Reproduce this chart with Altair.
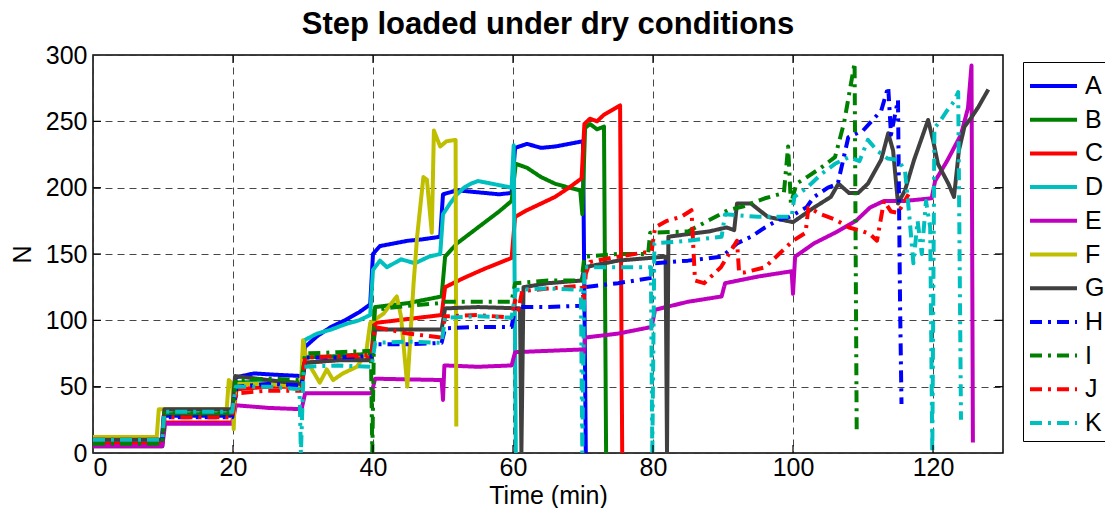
import altair as alt
import pandas as pd

series = ["A", "B", "C", "D", "E", "F", "G", "H", "I", "J", "K"]
colors = ["#0000FF", "#008000", "#FF0000", "#00BFBF", "#BF00BF", "#BFBF00",
          "#404040", "#0000FF", "#008000", "#FF0000", "#00BFBF"]
dashes = [[1, 0]] * 7 + [[12, 6, 3, 6]] * 4

x_ticks = [0, 20, 40, 60, 80, 100, 120]
y_ticks = [0, 50, 100, 150, 200, 250, 300]

A_t = [0, 9.8, 10.1, 19.9, 20.4, 23, 26, 29.8, 30.3, 32, 34, 36, 38, 39.6, 40.0, 41, 43, 45, 47, 49.6,
       50.0, 52, 54, 56, 58, 59.8, 60.3, 62, 64, 66, 68, 70.0, 70.4]
A_n = [8, 8, 28, 28, 57, 60, 59, 58, 80, 88, 95, 100, 106, 112, 150, 156, 158, 160, 161, 163,
       195, 198, 197, 196, 195, 196, 230, 233, 230, 231, 233, 235, 0]

B_t = [0, 9.9, 10.2, 19.9, 20.4, 25, 29.8, 30.3, 35, 39.8, 40.3, 45, 49.8, 50.3, 52, 55, 58, 59.8,
       60.4, 62, 64, 66, 68, 69.6, 69.9, 70.3, 71, 72, 73.0, 73.3]
B_n = [5, 5, 30, 30, 53, 54, 53, 72, 73, 75, 110, 113, 118, 148, 158, 170, 182, 190,
       218, 215, 208, 203, 200, 198, 180, 245, 248, 244, 246, 0]

C_t = [0, 9.9, 10.2, 19.9, 20.5, 25, 29.8, 30.3, 35, 39.8, 40.3, 45, 49.8, 50.3, 53, 56, 59.8,
       60.3, 62, 64, 66, 68, 69.8, 70.2, 71, 72, 73, 74, 75.3, 75.6]
C_n = [7, 7, 23, 23, 48, 50, 50, 68, 70, 72, 98, 101, 104, 125, 132, 139, 147,
       178, 183, 188, 193, 200, 207, 248, 252, 250, 255, 258, 262, 0]

D_t = [0, 9.9, 10.2, 19.9, 20.4, 25, 29.8, 30.2, 32, 34, 36, 38, 39.6, 40.0, 41, 42, 44, 46, 48, 49.6,
       50.0, 51, 52, 53, 54, 55, 57, 59.8, 60.1, 60.4]
D_n = [10, 10, 32, 32, 52, 53, 52, 85, 90, 93, 97, 100, 104, 138, 145, 140, 146, 143, 148, 150,
       180, 188, 195, 200, 203, 205, 203, 200, 232, 0]

E_t = [0, 9.9, 10.3, 19.9, 20.4, 25, 29.8, 30.3, 39.8, 40.3, 49.8, 50.0, 50.2, 55, 59.8, 60.3, 65,
       69.8, 70.0, 70.3, 75, 79.8, 80.3, 85, 89.8, 90.3, 95, 99.8, 100.0, 100.3, 103, 106, 109, 111,
       113, 116, 119.8, 120.3, 122, 124, 125.0, 125.5, 125.7]
E_n = [5, 5, 22, 22, 36, 34, 33, 45, 45, 56, 55, 40, 66, 65, 66, 76, 77,
       78, 70, 87, 90, 95, 108, 114, 118, 128, 133, 137, 120, 148, 158, 166, 175, 185,
       190, 190, 192, 205, 220, 240, 260, 292, 8]

F_t = [0, 9.1, 9.4, 19.1, 19.4, 19.9, 20.1, 20.3, 25, 29.7, 30.0, 30.5, 32.4, 33.4, 34.3, 35.7, 37.7,
       39.0, 39.6, 41.5, 42.5, 43.4, 44.0, 44.9, 45.8, 46.3, 47.2, 47.7, 48.4, 48.7, 49.6, 50.5, 51.8, 51.9]
F_n = [12, 12, 33, 33, 55, 52, 18, 52, 52, 50, 85, 70, 53, 63, 55, 60, 65,
       75, 98, 105, 112, 118, 103, 50, 128, 163, 208, 206, 166, 243, 231, 235, 236, 20]

G_t = [0, 9.9, 10.2, 19.9, 20.3, 25, 29.8, 30.3, 35, 39.8, 40.3, 45, 49.8, 50.3, 55, 61.0, 61.2, 61.5,
       65, 69.8, 70.2, 75, 81.8, 82.0, 82.2, 85, 88, 90.5, 91.6, 92, 94, 96.4, 100, 103, 105.4, 106.5,
       108, 109.3, 110.7, 112.6, 113.6, 114.3, 115, 116, 117.3, 119.3, 120, 120.7, 122.2, 123, 123.7,
       124.5, 125.5, 126.5, 127.9]
G_n = [10, 10, 33, 33, 58, 55, 52, 68, 70, 70, 93, 93, 93, 109, 110, 109, 0, 125,
       128, 130, 140, 145, 148, 0, 163, 165, 167, 170, 168, 188, 188, 178, 174, 185, 193, 203,
       196, 196, 203, 221, 241, 228, 188, 198, 221, 251, 236, 218, 203, 193, 228,
       246, 253, 261, 274]

H_t = [0, 9.9, 10.2, 19.9, 20.5, 25, 29.8, 30.3, 35, 39.8, 40.3, 45, 49.8, 50.3, 55, 59.8, 60.3, 65,
       69.8, 70.2, 75, 79.8, 80.3, 85, 89.8, 90.3, 92, 94, 96, 98, 99.5, 101.9, 103, 105, 106.4, 107.9,
       110, 112.6, 113.6, 114.0, 115.0, 115.3, 115.5]
H_n = [8, 8, 27, 27, 50, 52, 51, 72, 72, 73, 82, 82, 83, 94, 95, 95, 110, 110,
       111, 125, 128, 132, 143, 145, 148, 150, 158, 163, 170, 176, 178, 185, 193, 200, 203, 238,
       243, 258, 276, 240, 266, 110, 37]

I_t = [0, 9.9, 10.2, 19.9, 20.4, 25, 29.8, 30.3, 35, 39.7, 39.9, 40.2, 45, 49.8, 50.3, 55, 59.8, 60.3,
       65, 69.8, 70.2, 75, 79.3, 79.6, 85, 90.7, 93, 96, 98.7, 99.3, 99.7, 100.5, 102, 104, 106, 107.3,
       108.8, 109.1]
I_n = [7, 7, 30, 30, 55, 56, 55, 75, 76, 77, 0, 108, 111, 113, 114, 114, 114, 128,
       130, 130, 148, 150, 150, 166, 167, 183, 186, 192, 196, 231, 188, 203, 208, 215, 223, 249,
       294, 17]

J_t = [0, 9.9, 10.2, 19.9, 20.5, 25, 29.8, 30.3, 35, 39.8, 40.3, 45, 49.8, 50.3, 55, 59.8, 60.3, 60.8,
       61.3, 65, 69.8, 70.1, 70.4, 71, 75, 79.8, 80.3, 82, 84, 85.5, 86, 87.3, 89.7, 92, 92.3, 93, 96,
       98, 100, 101.8, 102.2, 104, 106, 108, 110, 111, 112, 113, 114, 115, 116.5]
J_n = [10, 10, 27, 27, 45, 47, 47, 72, 73, 74, 95, 90, 87, 103, 104, 102, 115, 108,
       122, 124, 126, 115, 135, 144, 148, 152, 170, 175, 178, 183, 130, 128, 140, 160, 136, 136, 140,
       150, 160, 166, 185, 180, 176, 170, 167, 165, 160, 190, 182, 181, 195]

K_t = [0, 9.9, 10.2, 19.9, 20.4, 25, 29.5, 29.7, 30.1, 35, 39.8, 40.3, 45, 49.8, 50.3, 55, 59.8, 60.4,
       65, 69.7, 69.9, 70.2, 75, 79.7, 79.9, 80.2, 85, 89.8, 90.3, 95, 99.8, 100.2, 102, 104, 106, 108,
       109.5, 110.7, 112, 113.5, 115, 116, 116.6, 117.2, 117.8, 118.4, 119.0, 119.6, 119.9, 120.2, 121,
       122, 123, 123.6, 124.0]
K_n = [10, 10, 31, 31, 50, 50, 48, 0, 65, 66, 65, 83, 84, 83, 102, 103, 102, 123,
       124, 123, 0, 140, 140, 140, 0, 158, 160, 163, 180, 178, 178, 193, 200, 210, 218, 223,
       220, 236, 228, 222, 221, 213, 180, 143, 175, 150, 190, 170, 0, 245, 250,
       258, 265, 272, 25]

data = {"A": (A_t, A_n), "B": (B_t, B_n), "C": (C_t, C_n), "D": (D_t, D_n),
        "E": (E_t, E_n), "F": (F_t, F_n), "G": (G_t, G_n), "H": (H_t, H_n),
        "I": (I_t, I_n), "J": (J_t, J_n), "K": (K_t, K_n)}

rows = []
for s in series:
    ts, ns = data[s]
    for i, (t, n) in enumerate(zip(ts, ns)):
        rows.append({"series": s, "t": t, "n": n, "i": i})
df = pd.DataFrame(rows)

FONT = "Liberation Sans"
TICK = 8  # inward tick length in px (styling)

legend = alt.Legend(
    title=None, orient="none", legendX=930, legendY=7,
    symbolType="M-1,0H1.765", symbolSize=1156, symbolStrokeWidth=4,
    labelFontSize=25, labelFont=FONT, labelColor="black", labelOffset=19,
    rowPadding=1.7, padding=5, strokeColor="black", fillColor="white",
)

xs = alt.Scale(domain=[0, 130], nice=False, zero=False)
ys = alt.Scale(domain=[0, 300], nice=False)

lines = alt.Chart(df).mark_line(strokeWidth=4, strokeJoin="round", clip=True).encode(
    x=alt.X("t:Q", scale=xs,
            axis=alt.Axis(values=x_ticks, title="Time (min)", grid=True, ticks=False, domain=False,
                          labelPadding=2, titleBaseline="alphabetic", titleY=50)),
    y=alt.Y("n:Q", scale=ys,
            axis=alt.Axis(values=y_ticks, title="N", grid=True, ticks=False, domain=False,
                          labelPadding=6, titlePadding=10)),
    color=alt.Color("series:N", scale=alt.Scale(domain=series, range=colors), legend=legend),
    strokeDash=alt.StrokeDash("series:N", scale=alt.Scale(domain=series, range=dashes), legend=legend),
    order=alt.Order("i:Q"),
)

xt = pd.DataFrame({"v": x_ticks[1:]})
yt = pd.DataFrame({"v": y_ticks[1:-1]})
tick_style = dict(color="black", strokeWidth=1.2)

xb = alt.Chart(xt).mark_rule(**tick_style).encode(
    x=alt.X("v:Q", scale=xs), y=alt.value(398), y2=alt.value(398 - TICK))
xtop = alt.Chart(xt).mark_rule(**tick_style).encode(
    x=alt.X("v:Q", scale=xs), y=alt.value(0), y2=alt.value(TICK))
yl = alt.Chart(yt).mark_rule(**tick_style).encode(
    y=alt.Y("v:Q", scale=ys), x=alt.value(0), x2=alt.value(TICK))
yr = alt.Chart(yt).mark_rule(**tick_style).encode(
    y=alt.Y("v:Q", scale=ys), x=alt.value(910), x2=alt.value(910 - TICK))

chart = alt.layer(lines, xb, xtop, yl, yr).properties(
    width=910, height=398,
    title=alt.Title("Step loaded under dry conditions", fontSize=31, font=FONT, fontWeight="bold",
                    anchor="middle", baseline="alphabetic", offset=-22, color="black"),
    padding={"left": 85, "top": 47, "right": 102, "bottom": 55},
    autosize=alt.AutoSizeParams(type="none"),
    background="white",
).configure_axis(
    labelFont=FONT, labelFontSize=25, labelColor="black",
    titleFont=FONT, titleFontSize=25, titleColor="black", titleFontWeight="normal",
    gridColor="#333333", gridDash=[7, 5], gridWidth=1, gridOpacity=0.9,
).configure_view(stroke="black", strokeWidth=1.5)

chart.save("out.html", embed_options={"renderer": "svg", "actions": False})
